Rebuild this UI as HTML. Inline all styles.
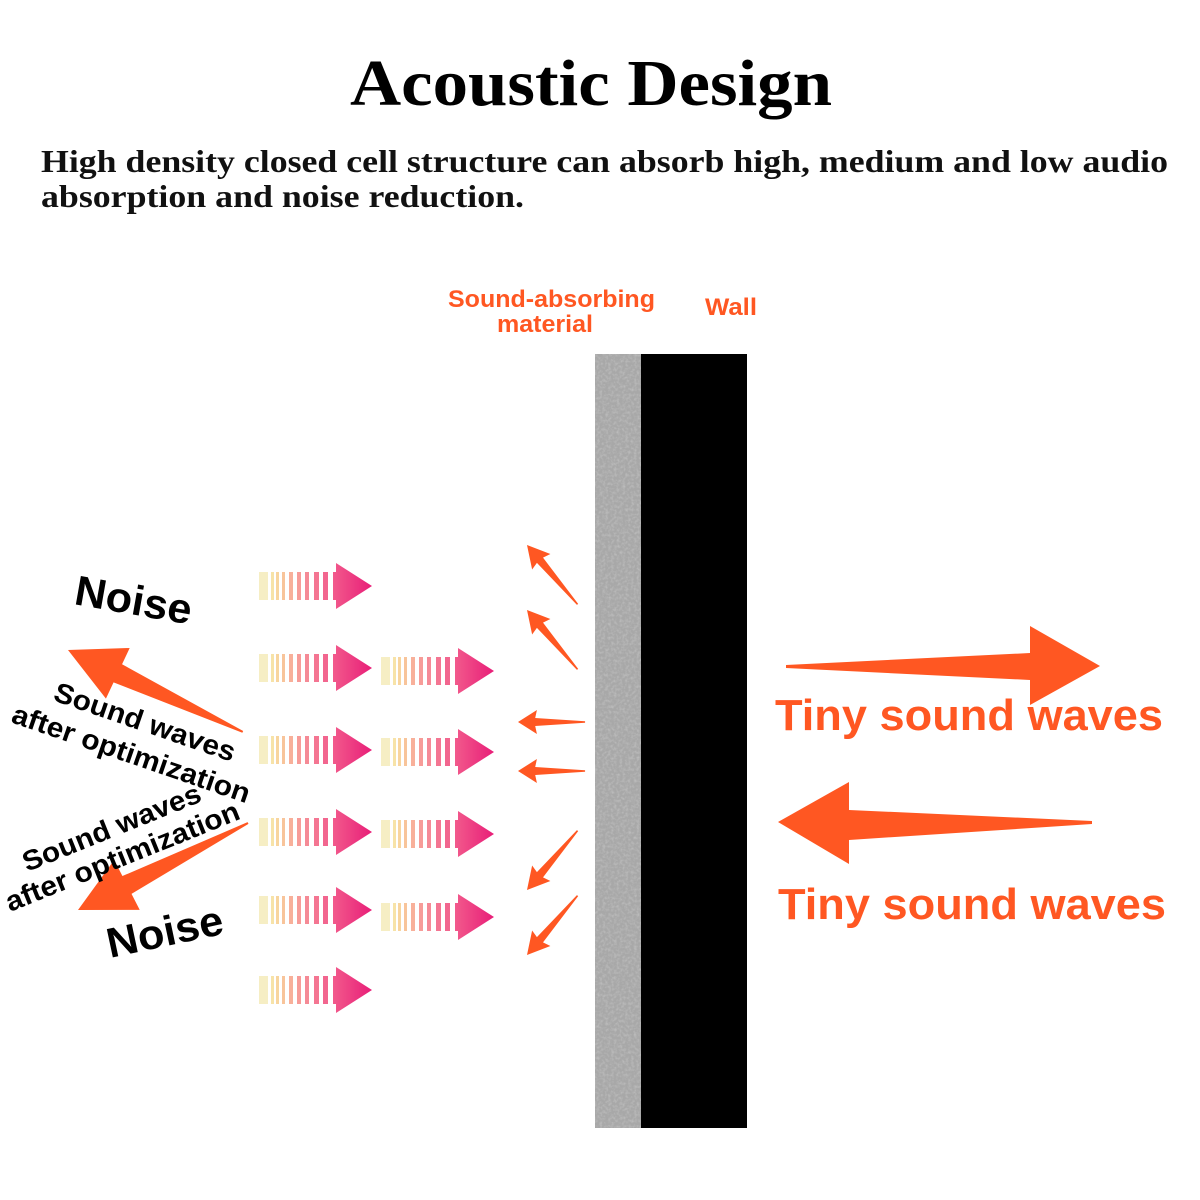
<!DOCTYPE html>
<html><head><meta charset="utf-8"><style>
body{margin:0;background:#fff;}
svg{display:block}
</style></head><body>
<svg width="1200" height="1200" viewBox="0 0 1200 1200" xmlns="http://www.w3.org/2000/svg">
<defs>
<filter id="noise" x="0" y="0" width="100%" height="100%">
<feTurbulence type="fractalNoise" baseFrequency="0.35" numOctaves="2" seed="4"/>
<feColorMatrix type="matrix" values="0 0 0 0 0.5  0 0 0 0 0.5  0 0 0 0 0.5  0 0 0 -2.2 1.3"/>
</filter>
<linearGradient id="hg" x1="0" x2="1"><stop offset="0" stop-color="#f25a8c"/><stop offset="1" stop-color="#e81e78"/></linearGradient>
<g id="sa">
<rect x="0" y="-14" width="9" height="28" fill="#f6eec4"/>
<rect x="12" y="-14" width="3" height="28" fill="#f7e3a8"/>
<rect x="17" y="-14" width="3" height="28" fill="#f8d59e"/>
<rect x="23" y="-14" width="3" height="28" fill="#f8c49a"/>
<rect x="30" y="-14" width="4" height="28" fill="#f8b09a"/>
<rect x="38" y="-14" width="4" height="28" fill="#f79c98"/>
<rect x="46" y="-14" width="4" height="28" fill="#f58a96"/>
<rect x="55" y="-14" width="5" height="28" fill="#f47592"/>
<rect x="64" y="-14" width="5" height="28" fill="#f2668f"/>
<polygon points="74,-14 77,-14 77,-23 113,0 77,23 77,14 74,14" fill="url(#hg)"/>
</g>
<polygon id="sm" points="-78,-0.8 -20,-4 -22,-12 0,0 -22,12 -20,4 -78,0.8" fill="#ff5722"/>
</defs>

<text x="350" y="105" textLength="482" lengthAdjust="spacingAndGlyphs" font-family="Liberation Serif, serif" font-weight="bold" font-size="66">Acoustic Design</text>
<text x="41" y="172" textLength="1127" lengthAdjust="spacingAndGlyphs" font-family="Liberation Serif, serif" font-weight="bold" font-size="32" fill="#111">High density closed cell structure can absorb high, medium and low audio</text>
<text x="41" y="207" textLength="483" lengthAdjust="spacingAndGlyphs" font-family="Liberation Serif, serif" font-weight="bold" font-size="32" fill="#111">absorption and noise reduction.</text>

<g font-family="Liberation Sans, sans-serif" font-weight="bold" fill="#ff5722">
<text x="448" y="307" font-size="24" textLength="207" lengthAdjust="spacingAndGlyphs">Sound-absorbing</text>
<text x="497" y="332" font-size="24" textLength="96" lengthAdjust="spacingAndGlyphs">material</text>
<text x="705" y="315" font-size="24" textLength="52" lengthAdjust="spacingAndGlyphs">Wall</text>
</g>

<rect x="595" y="354" width="46" height="774" fill="#a8a8a8"/>
<rect x="595" y="354" width="46" height="774" filter="url(#noise)"/>
<rect x="641" y="354" width="106" height="774" fill="#000"/>

<use href="#sa" x="259" y="586"/>
<use href="#sa" x="259" y="668"/>
<use href="#sa" x="259" y="750"/>
<use href="#sa" x="259" y="832"/>
<use href="#sa" x="259" y="910"/>
<use href="#sa" x="259" y="990"/>
<use href="#sa" x="381" y="671"/>
<use href="#sa" x="381" y="752"/>
<use href="#sa" x="381" y="834"/>
<use href="#sa" x="381" y="917"/>

<use href="#sm" transform="translate(527,545) rotate(229.6)"/>
<use href="#sm" transform="translate(527,610) rotate(229.6)"/>
<use href="#sm" transform="translate(518,722) rotate(180) scale(0.86,1)"/>
<use href="#sm" transform="translate(518,771) rotate(180) scale(0.86,1)"/>
<use href="#sm" transform="translate(527,890) rotate(130.4)"/>
<use href="#sm" transform="translate(527,955) rotate(130.4)"/>

<polygon points="786,665 1030,653 1030,626 1100,666 1030,705 1030,680 786,668" fill="#ff5722"/>
<polygon points="1092,821 849,810 849,782 778,822 849,864 849,840 1092,824" fill="#ff5722"/>

<polygon transform="translate(68,650) rotate(25.1)" points="193,-1 55,-10 55,-28 0,0 55,28 55,10 193,1" fill="#ff5722"/>
<polygon transform="translate(78,910) rotate(-27.1)" points="191,-1 55,-10 55,-28 0,0 55,28 55,10 191,1" fill="#ff5722"/>

<g font-family="Liberation Sans, sans-serif" font-weight="bold" fill="#ff5722">
<text x="775" y="730" font-size="44" textLength="388" lengthAdjust="spacingAndGlyphs">Tiny sound waves</text>
<text x="778" y="919" font-size="44" textLength="388" lengthAdjust="spacingAndGlyphs">Tiny sound waves</text>
</g>

<g font-family="Liberation Sans, sans-serif" font-weight="bold" fill="#000">
<text transform="translate(73,604) rotate(10)" font-size="42" textLength="118" lengthAdjust="spacingAndGlyphs">Noise</text>
<text transform="translate(52,700) rotate(19)" font-size="28" textLength="190" lengthAdjust="spacingAndGlyphs">Sound waves</text>
<text transform="translate(10,722) rotate(19)" font-size="28" textLength="250" lengthAdjust="spacingAndGlyphs">after optimization</text>
<text transform="translate(27,872) rotate(-22)" font-size="28" textLength="190" lengthAdjust="spacingAndGlyphs">Sound waves</text>
<text transform="translate(10,912) rotate(-22)" font-size="28" textLength="250" lengthAdjust="spacingAndGlyphs">after optimization</text>
<text transform="translate(110,958) rotate(-12)" font-size="42" textLength="118" lengthAdjust="spacingAndGlyphs">Noise</text>
</g>
</svg>
</body></html>
